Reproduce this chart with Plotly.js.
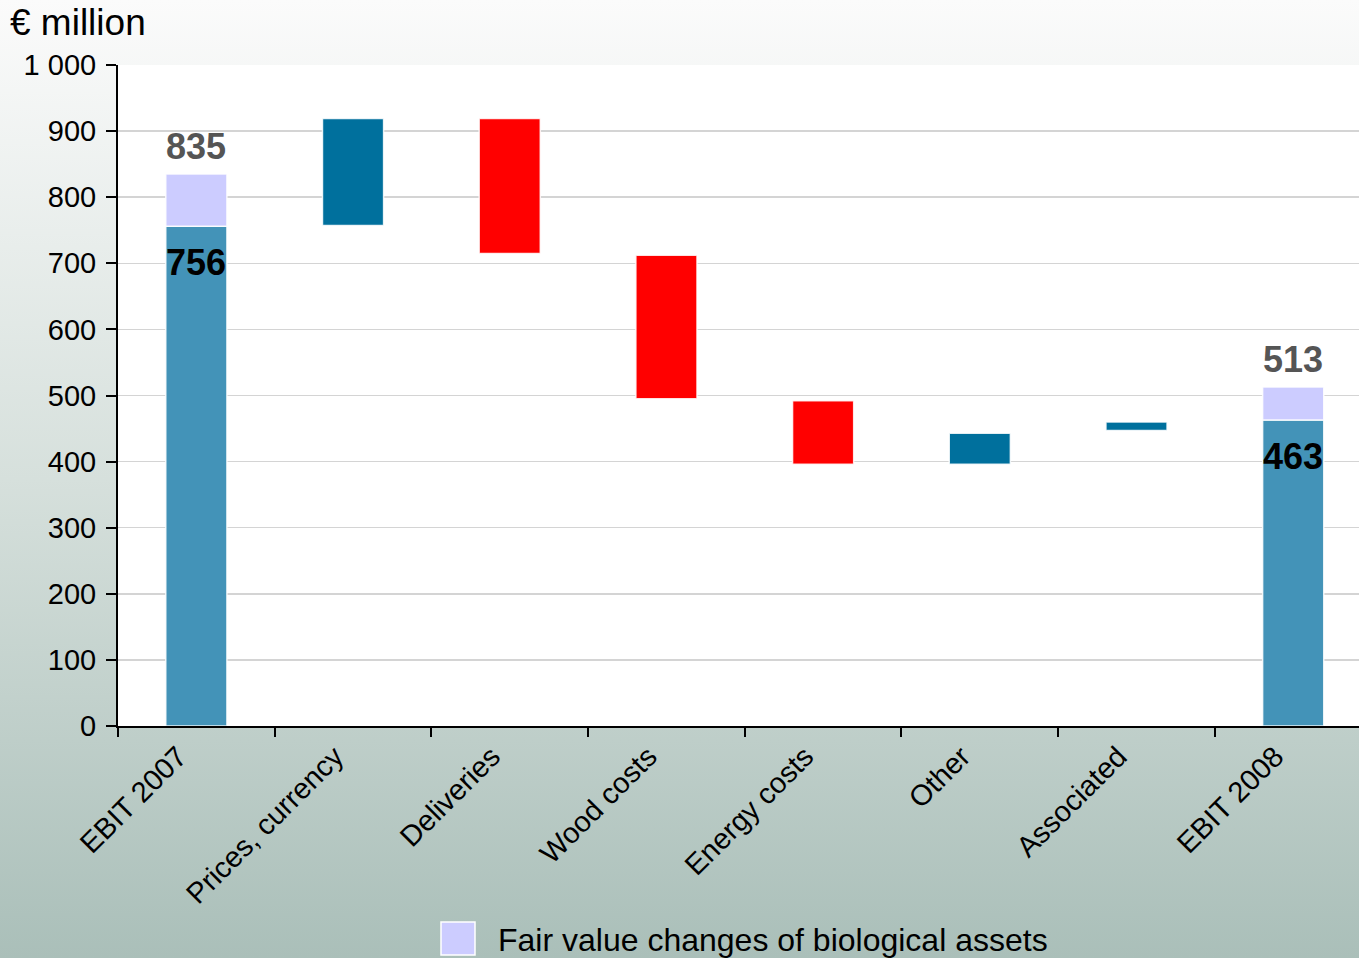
<!DOCTYPE html>
<html>
<head>
<meta charset="utf-8">
<script src="https://cdn.plot.ly/plotly-3.0.1.min.js"></script>
<style>
  html, body { margin: 0; padding: 0; }
  body {
    width: 1359px; height: 958px; overflow: hidden;
    background: linear-gradient(to bottom, #fbfbfb 0%, #d6e0dc 50%, #aabfb9 100%);
  }
  #chart { width: 1359px; height: 958px; }
</style>
</head>
<body>
<div id="chart"></div>
<script>
// EBIT bridge 2007 -> 2008, € million
const categories = ['EBIT 2007', 'Prices, currency', 'Deliveries', 'Wood costs',
                    'Energy costs', 'Other', 'Associated', 'EBIT 2008'];

// EBIT totals, split into the part excluding fair value changes and the total
const totalCats = ['EBIT 2007', 'EBIT 2008'];
const ebitExclFair = [756, 463];
const ebitTotal = [835, 513];

// Positive bridge steps (start -> end)
const upCats = ['Prices, currency', 'Other', 'Associated'];
const upStart = [757, 396, 447];
const upEnd = [919, 443, 460];

// Negative bridge steps (start -> end)
const downCats = ['Deliveries', 'Wood costs', 'Energy costs'];
const downStart = [919, 712, 492];
const downEnd = [715, 495, 396];

const yTicks = [0, 100, 200, 300, 400, 500, 600, 700, 800, 900, 1000];
const unitLabel = '€ million';
const legendLabel = 'Fair value changes of biological assets';

const FONT = 'Liberation Sans, Arial, sans-serif';
const C_TOTAL = '#4393b8';
const C_FAIR = '#ccccff';
const C_UP = '#00709d';
const C_DOWN = '#ff0000';
const BAR_W = 0.39;
const outline = { color: 'rgba(255,255,255,0.85)', width: 1.5 };

// Plot-area geometry (pixels) used to place the legend entry below the axis
const PLOT_L = 118, PLOT_W = 1241, PLOT_BOTTOM = 726, PLOT_H = 661;
const px2x = px => (px - PLOT_L) / PLOT_W;
const px2y = py => (PLOT_BOTTOM - py) / PLOT_H;

const traces = [
  {
    type: 'bar', x: totalCats, y: ebitExclFair, base: [0, 0],
    width: BAR_W, marker: { color: C_TOTAL, line: outline },
    showlegend: false, hoverinfo: 'skip'
  },
  {
    type: 'bar', x: totalCats,
    y: ebitTotal.map((t, i) => t - ebitExclFair[i]), base: ebitExclFair,
    width: BAR_W, marker: { color: C_FAIR, line: outline },
    showlegend: false, hoverinfo: 'skip'
  },
  {
    type: 'bar', x: upCats,
    y: upEnd.map((e, i) => e - upStart[i]), base: upStart,
    width: BAR_W, marker: { color: C_UP, line: outline },
    showlegend: false, hoverinfo: 'skip'
  },
  {
    type: 'bar', x: downCats,
    y: downEnd.map((e, i) => e - downStart[i]), base: downStart,
    width: BAR_W, marker: { color: C_DOWN, line: outline },
    showlegend: false, hoverinfo: 'skip'
  }
];

// Value labels: totals above the bars, EBIT excluding fair value inside the bars
const annotations = [];
totalCats.forEach((c, i) => {
  annotations.push({
    x: c, y: ebitTotal[i], xref: 'x', yref: 'y',
    text: '<b>' + ebitTotal[i] + '</b>', showarrow: false,
    yanchor: 'bottom', yshift: 5,
    font: { family: FONT, size: 36, color: '#555555' }
  });
  annotations.push({
    x: c, y: ebitExclFair[i], xref: 'x', yref: 'y',
    text: '<b>' + ebitExclFair[i] + '</b>', showarrow: false,
    yanchor: 'top', yshift: -14,
    font: { family: FONT, size: 36, color: '#000000' }
  });
});

// Legend entry text
annotations.push({
  x: px2x(496), y: px2y(940), xref: 'paper', yref: 'paper',
  text: legendLabel, showarrow: false, xanchor: 'left', yanchor: 'middle',
  font: { family: FONT, size: 32, color: '#000000' }
});

const layout = {
  width: 1359, height: 958,
  margin: { l: PLOT_L, r: 0, t: 65, b: 958 - PLOT_BOTTOM, pad: 0 },
  paper_bgcolor: 'rgba(0,0,0,0)',
  plot_bgcolor: '#ffffff',
  barmode: 'overlay',
  separators: '. ',
  title: {
    text: unitLabel, xref: 'container', yref: 'container',
    x: 10 / 1359, xanchor: 'left', y: 1 - 22 / 958, yanchor: 'middle',
    font: { family: FONT, size: 37, color: '#000000' }
  },
  xaxis: {
    type: 'category', categoryorder: 'array', categoryarray: categories,
    range: [-0.5, 7.42],
    tickson: 'boundaries', ticks: 'outside', ticklen: 9, tickwidth: 2, tickcolor: '#000000',
    showline: true, linecolor: '#000000', linewidth: 2,
    showgrid: false, zeroline: false,
    tickangle: -45, ticklabelshift: -18,
    tickfont: { family: FONT, size: 29, color: '#000000' }
  },
  yaxis: {
    range: [0, 1000], tickvals: yTicks, separatethousands: true,
    ticks: 'outside', ticklen: 10, tickwidth: 2, tickcolor: '#000000',
    showline: true, linecolor: '#000000', linewidth: 2,
    showgrid: true, gridcolor: '#d4d4d4', gridwidth: 1.5,
    zeroline: false, ticklabelstandoff: 4,
    tickfont: { family: FONT, size: 29, color: '#000000' }
  },
  shapes: [{
    type: 'rect', xref: 'paper', yref: 'paper',
    x0: px2x(441), x1: px2x(475),
    y0: px2y(955), y1: px2y(922),
    fillcolor: C_FAIR, line: { color: '#ffffff', width: 1.5 }
  }],
  annotations: annotations,
  showlegend: false
};

Plotly.newPlot('chart', traces, layout, { staticPlot: true, displayModeBar: false });
</script>
</body>
</html>
